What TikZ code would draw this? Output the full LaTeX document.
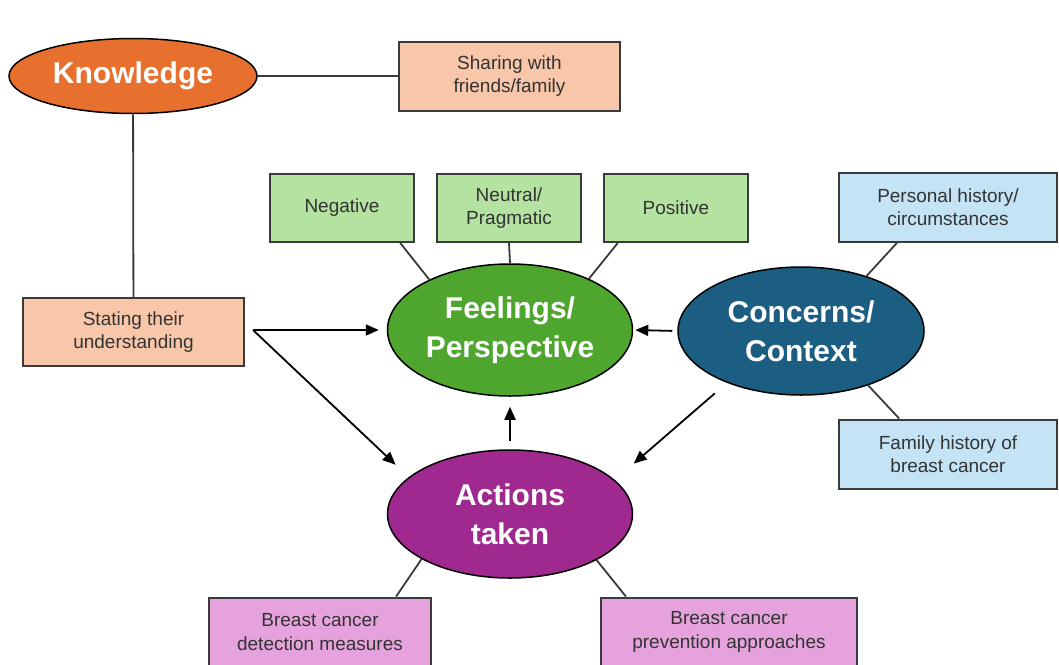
\documentclass[tikz,border=0pt]{standalone}
\usepackage{fontspec}
\setmainfont{Liberation Sans}
\usepackage{tikz}
\usetikzlibrary{
    arrows.meta,
    shapes.geometric
}
\definecolor{knoworange}{HTML}{E8702F}
\definecolor{knowpeach}{HTML}{F8C6A8}
\definecolor{feelgreen}{HTML}{4FA62F}
\definecolor{feellight}{HTML}{B4E2A0}
\definecolor{concblue}{HTML}{1B5E81}
\definecolor{conclight}{HTML}{C4E4F5}
\definecolor{actpurple}{HTML}{A0298F}
\definecolor{actpink}{HTML}{E6A2DC}
\definecolor{boxline}{HTML}{3A3A3A}
\tikzset{
    theme/.style={ellipse, draw=black, line width=1.5pt, inner sep=0pt,
        text=white, align=center, font=\fontsize{30}{39}\selectfont\bfseries},
    topicbox/.style={rectangle, draw=boxline, line width=2pt, inner sep=0pt,
        text=black!80, align=center, font=\fontsize{19}{23.5}\selectfont}
}

\begin{document}
\begin{tikzpicture}[x=1pt, y=-1pt, line width=1.8pt,
        >={Triangle[length=13pt,width=11pt]}]
        \useasboundingbox (0,0) rectangle (1059,664);

        % main themes
        \node[theme, fill=knoworange, minimum width=248pt, minimum height=75pt] (know) at (133,76) {Knowledge};
        \node[theme, fill=feelgreen, minimum width=245pt, minimum height=132pt] (feel) at (510,330) {Feelings/\\Perspective};
        \node[theme, fill=concblue, minimum width=246pt, minimum height=128pt] (conc) at (801,331) {Concerns/\\Context};
        \node[theme, fill=actpurple, minimum width=245pt, minimum height=128pt] (act) at (510,514) {Actions\\taken};

        % sub themes
        \node[topicbox, fill=knowpeach, minimum width=221pt, minimum height=69pt] (share) at (509.5,76) {Sharing with\\friends/family};
        \node[topicbox, fill=knowpeach, minimum width=221pt, minimum height=68pt] (state) at (133.5,332) {Stating their\\understanding};
        \node[topicbox, fill=feellight, minimum width=144pt, minimum height=68pt] (neg) at (342,208) {Negative};
        \node[topicbox, fill=feellight, minimum width=144pt, minimum height=68pt] (neut) at (509,208) {Neutral/\\Pragmatic};
        \node[topicbox, fill=feellight, minimum width=144pt, minimum height=68pt] (pos) at (676,208) {Positive};
        \node[topicbox, fill=conclight, minimum width=218pt, minimum height=69pt] (pers) at (948,207) {Personal history/\\circumstances};
        \node[topicbox, fill=conclight, minimum width=218pt, minimum height=69pt] (fam) at (948,454) {Family history of\\breast cancer};
        \node[topicbox, fill=actpink, minimum width=222pt, minimum height=69pt] (detect) at (320,632) {Breast cancer\\detection measures};
        \node[topicbox, fill=actpink, minimum width=256pt, minimum height=69pt] (prev) at (729,632) {Breast cancer\\prevention approaches};

        \coordinate (fork) at (253,330);

        % plain links
        \draw[boxline] (know) -- (share);
        \draw[boxline] (know) -- (state);
        \draw[boxline] (neg.-31) -- (feel.148);
        \draw[boxline] (neut.south) -- (feel.north);
        \draw[boxline] (pos.211) -- (feel.33);
        \draw[boxline] (pers.215) -- (conc.40);
        \draw[boxline] (fam.144) -- (conc.-39);
        \draw[boxline] (detect.25) -- (act.207);
        \draw[boxline] (prev.161) -- (act.-28);

        % arrows
        \draw[->, shorten >=8pt] (fork) -- (feel.west);
        \draw[->, shorten >=18pt] (fork) -- (act.160);
        \draw[->, shorten <=5pt, shorten >=2pt] (conc.west) -- (feel.east);
        \draw[->, shorten <=16pt, shorten >=25pt] (conc.215) -- (act.18);
        \draw[->, shorten <=8pt, shorten >=10pt] (act.north) -- (feel.south);
    \end{tikzpicture}
\end{document}
